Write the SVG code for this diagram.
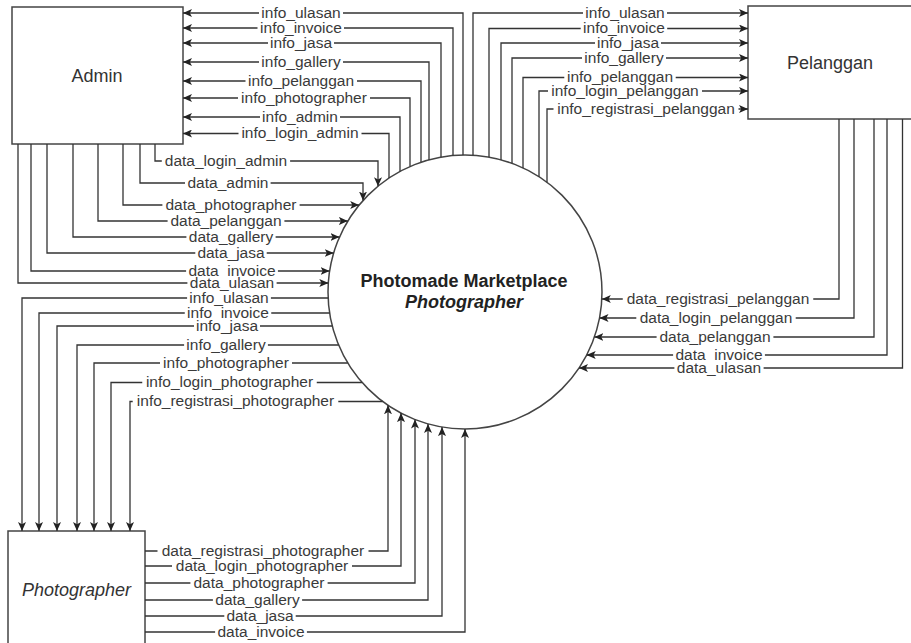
<svg xmlns="http://www.w3.org/2000/svg" width="911" height="643" viewBox="0 0 911 643">
<style>
.box{fill:#fff;stroke:#444;stroke-width:1.5}
.ln{fill:none;stroke:#333;stroke-width:1.3}
.ar{marker-end:url(#arr)}
.bg{fill:#fff}
.lbl{font-family:"Liberation Sans",Arial,sans-serif;font-size:15.5px;fill:#3a3a3a;text-anchor:middle}
.name{font-family:"Liberation Sans",Arial,sans-serif;font-size:18px;fill:#333;text-anchor:middle}
.title{font-family:"Liberation Sans",Arial,sans-serif;font-size:18px;font-weight:bold;fill:#222;text-anchor:middle}
</style>
<defs>
<marker id="arr" viewBox="0 0 9 8" refX="9" refY="4" markerWidth="9" markerHeight="8" markerUnits="userSpaceOnUse" orient="auto">
<path d="M0,0 L9,4 L0,8 L2.2,4 z" fill="#222"/>
</marker>
</defs>
<rect width="911" height="643" fill="#fff"/>
<g id="admin"><rect class="box" x="12" y="7" width="171" height="137"/><text class="name" x="97" y="82">Admin</text></g>
<g id="pelanggan"><rect class="box" x="748" y="6" width="170" height="113"/><text class="name" x="830" y="69">Pelanggan</text></g>
<g id="photographer"><rect class="box" x="8" y="531" width="137" height="125"/><text class="name" x="76.5" y="596" font-style="italic">Photographer</text></g>
<g id="process"><circle class="box" cx="465" cy="292" r="137"/><text class="title" x="464" y="287">Photomade Marketplace</text><text class="title" x="464" y="308" font-style="italic">Photographer</text></g>
<g id="connectors">
<path class="ln ar" d="M463,155 V13 H183"/>
<path class="ln ar" d="M453,155.5 V28 H183"/>
<path class="ln ar" d="M441,157 V43 H183"/>
<path class="ln ar" d="M429,160 V62 H183"/>
<path class="ln ar" d="M421,162 V81 H183"/>
<path class="ln ar" d="M410,166.5 V98 H183"/>
<path class="ln ar" d="M400,171.5 V117 H183"/>
<path class="ln ar" d="M389,178 V133.5 H183"/>
<path class="ln ar" d="M473,155.2 V13 H748"/>
<path class="ln ar" d="M489,157 V28.5 H748"/>
<path class="ln ar" d="M501,160 V43 H748"/>
<path class="ln ar" d="M512,163.3 V58 H748"/>
<path class="ln ar" d="M523,168 V77.5 H748"/>
<path class="ln ar" d="M539,176.7 V91 H748"/>
<path class="ln ar" d="M547,182.3 V109 H748"/>
<path class="ln ar" d="M155,144 V161 H378 V186.2"/>
<path class="ln ar" d="M140,144 V183 H363 V200.5"/>
<path class="ln ar" d="M123,144 V205 H359.2"/>
<path class="ln ar" d="M98,144 V221 H347.8"/>
<path class="ln ar" d="M73,144 V237 H339.5"/>
<path class="ln ar" d="M47,144 V253 H333.7"/>
<path class="ln ar" d="M31,144 V271 H329.6"/>
<path class="ln ar" d="M18,144 V283 H328.3"/>
<path class="ln ar" d="M328.1,298 H22 V531"/>
<path class="ln ar" d="M329.6,313 H39 V531"/>
<path class="ln ar" d="M332.3,326 H57 V531"/>
<path class="ln ar" d="M338.7,345 H77 V531"/>
<path class="ln ar" d="M347.8,363 H94 V531"/>
<path class="ln ar" d="M362.1,382.5 H111 V531"/>
<path class="ln ar" d="M382.7,401.5 H130 V531"/>
<path class="ln ar" d="M145,551 H388 V405.3"/>
<path class="ln ar" d="M145,566 H401 V413.1"/>
<path class="ln ar" d="M145,583 H415 V419.5"/>
<path class="ln ar" d="M145,600 H428 V423.9"/>
<path class="ln ar" d="M145,616 H442 V427.1"/>
<path class="ln ar" d="M145,632 H465 V429"/>
<path class="ln ar" d="M839,119 V299 H601.8"/>
<path class="ln ar" d="M854,119 V318 H599.5"/>
<path class="ln ar" d="M874,119 V337 H594.4"/>
<path class="ln ar" d="M887,119 V355 H586.7"/>
<path class="ln ar" d="M902.5,119 V368 H579"/>
<g><rect class="bg" x="259" y="7" width="84" height="12"/><text class="lbl" x="301" y="17.5">info_ulasan</text></g>
<g><rect class="bg" x="257.5" y="22" width="86.5" height="12"/><text class="lbl" x="301" y="32.5">info_invoice</text></g>
<g><rect class="bg" x="268" y="37" width="66" height="12"/><text class="lbl" x="301" y="47.5">info_jasa</text></g>
<g><rect class="bg" x="259" y="56" width="84" height="12"/><text class="lbl" x="301" y="66.5">info_gallery</text></g>
<g><rect class="bg" x="245.5" y="75" width="111.5" height="12"/><text class="lbl" x="301" y="85.5">info_pelanggan</text></g>
<g><rect class="bg" x="238" y="92" width="132" height="12"/><text class="lbl" x="304" y="102.5">info_photographer</text></g>
<g><rect class="bg" x="260" y="111" width="80" height="12"/><text class="lbl" x="300" y="121.5">info_admin</text></g>
<g><rect class="bg" x="238.5" y="127.5" width="123" height="12"/><text class="lbl" x="300" y="138">info_login_admin</text></g>
<g><rect class="bg" x="583" y="7" width="84" height="12"/><text class="lbl" x="625" y="17.5">info_ulasan</text></g>
<g><rect class="bg" x="580.7" y="22.5" width="86.5" height="12"/><text class="lbl" x="624" y="33">info_invoice</text></g>
<g><rect class="bg" x="595" y="37" width="66" height="12"/><text class="lbl" x="628" y="47.5">info_jasa</text></g>
<g><rect class="bg" x="582" y="52" width="84" height="12"/><text class="lbl" x="624" y="62.5">info_gallery</text></g>
<g><rect class="bg" x="564.3" y="71.5" width="111.4" height="12"/><text class="lbl" x="620" y="82">info_pelanggan</text></g>
<g><rect class="bg" x="548" y="85" width="154" height="12"/><text class="lbl" x="625" y="95.5">info_login_pelanggan</text></g>
<g><rect class="bg" x="553.5" y="103" width="185" height="12"/><text class="lbl" x="646" y="113.5">info_registrasi_pelanggan</text></g>
<g><rect class="bg" x="161.8" y="155" width="128.3" height="12"/><text class="lbl" x="226" y="165.5">data_login_admin</text></g>
<g><rect class="bg" x="185" y="177" width="85.6" height="12"/><text class="lbl" x="228" y="187.5">data_admin</text></g>
<g><rect class="bg" x="162.4" y="199" width="137.2" height="12"/><text class="lbl" x="231" y="209.5">data_photographer</text></g>
<g><rect class="bg" x="167.6" y="215" width="116.8" height="12"/><text class="lbl" x="226" y="225.5">data_pelanggan</text></g>
<g><rect class="bg" x="186.4" y="231" width="89.2" height="12"/><text class="lbl" x="231" y="241.5">data_gallery</text></g>
<g><rect class="bg" x="195.3" y="247" width="71.4" height="12"/><text class="lbl" x="231" y="257.5">data_jasa</text></g>
<g><rect class="bg" x="186.1" y="265" width="91.8" height="12"/><text class="lbl" x="232" y="275.5">data_invoice</text></g>
<g><rect class="bg" x="187.4" y="277" width="89.2" height="12"/><text class="lbl" x="232" y="287.5">data_ulasan</text></g>
<g><rect class="bg" x="187.1" y="292" width="83.8" height="12"/><text class="lbl" x="229" y="302.5">info_ulasan</text></g>
<g><rect class="bg" x="184.75" y="307" width="86.5" height="12"/><text class="lbl" x="228" y="317.5">info_invoice</text></g>
<g><rect class="bg" x="194" y="320" width="66" height="12"/><text class="lbl" x="227" y="330.5">info_jasa</text></g>
<g><rect class="bg" x="184.1" y="339" width="83.8" height="12"/><text class="lbl" x="226" y="349.5">info_gallery</text></g>
<g><rect class="bg" x="160" y="357" width="132" height="12"/><text class="lbl" x="226" y="367.5">info_photographer</text></g>
<g><rect class="bg" x="142.25" y="376.5" width="174.5" height="12"/><text class="lbl" x="229.5" y="387">info_login_photographer</text></g>
<g><rect class="bg" x="132.7" y="395.5" width="205.6" height="12"/><text class="lbl" x="235.5" y="406">info_registrasi_photographer</text></g>
<g><rect class="bg" x="157.5" y="545" width="211" height="12"/><text class="lbl" x="263" y="555.5">data_registrasi_photographer</text></g>
<g><rect class="bg" x="172" y="560" width="180" height="12"/><text class="lbl" x="262" y="570.5">data_login_photographer</text></g>
<g><rect class="bg" x="190.4" y="577" width="137.2" height="12"/><text class="lbl" x="259" y="587.5">data_photographer</text></g>
<g><rect class="bg" x="212.9" y="594" width="89.2" height="12"/><text class="lbl" x="257.5" y="604.5">data_gallery</text></g>
<g><rect class="bg" x="224.3" y="610" width="71.4" height="12"/><text class="lbl" x="260" y="620.5">data_jasa</text></g>
<g><rect class="bg" x="215.1" y="626" width="91.8" height="12"/><text class="lbl" x="261" y="636.5">data_invoice</text></g>
<g><rect class="bg" x="622.75" y="293" width="190.5" height="12"/><text class="lbl" x="718" y="303.5">data_registrasi_pelanggan</text></g>
<g><rect class="bg" x="636.3" y="312" width="159.4" height="12"/><text class="lbl" x="716" y="322.5">data_login_pelanggan</text></g>
<g><rect class="bg" x="656.6" y="331" width="116.8" height="12"/><text class="lbl" x="715" y="341.5">data_pelanggan</text></g>
<g><rect class="bg" x="673.1" y="349" width="91.8" height="12"/><text class="lbl" x="719" y="359.5">data_invoice</text></g>
<g><rect class="bg" x="674.4" y="362" width="89.2" height="12"/><text class="lbl" x="719" y="372.5">data_ulasan</text></g>
</g>
</svg>
